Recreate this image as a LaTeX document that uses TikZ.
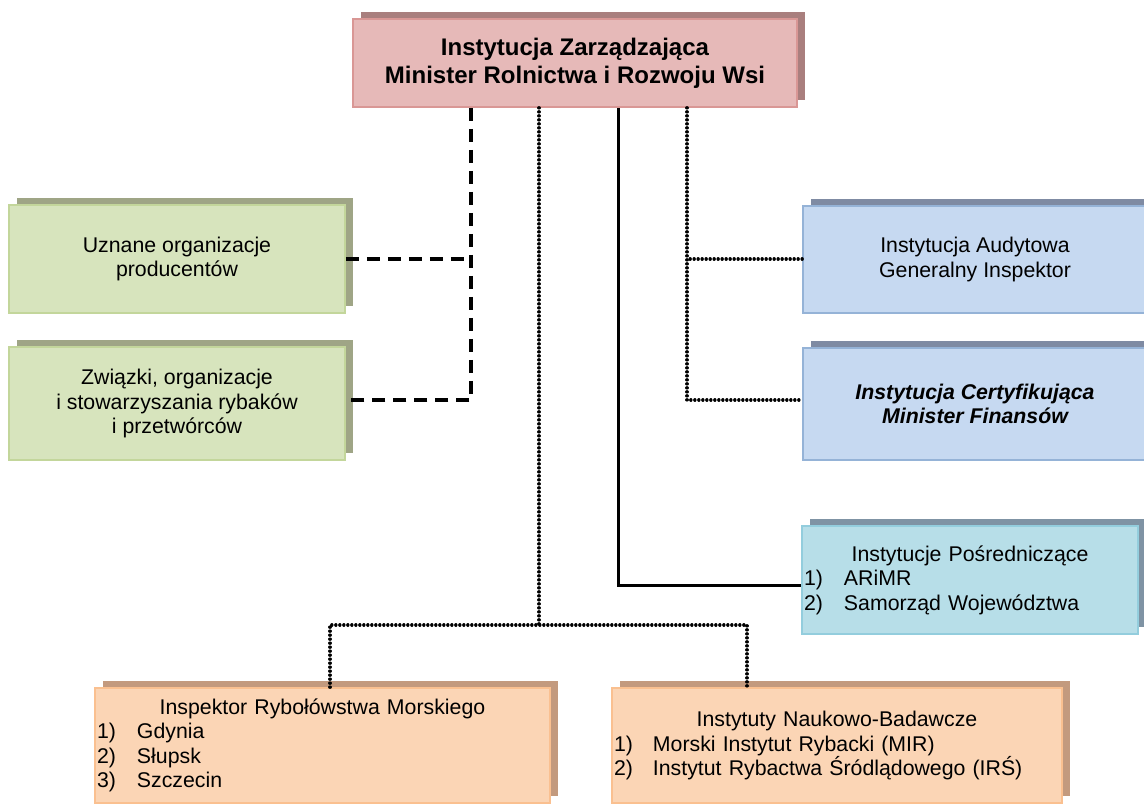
\documentclass[tikz,border=0pt]{standalone}
\usepackage{fontspec}
\setmainfont{Liberation Sans}
\usetikzlibrary{shadows}
\definecolor{pinkfill}{HTML}{E6B9B8}
\definecolor{pinkline}{HTML}{D99795}
\definecolor{pinkshadow}{HTML}{A97F7E}
\definecolor{greenfill}{HTML}{D7E4BD}
\definecolor{greenline}{HTML}{C3D69B}
\definecolor{greenshadow}{HTML}{9FA586}
\definecolor{bluefill}{HTML}{C6D9F1}
\definecolor{blueline}{HTML}{95B3D7}
\definecolor{blueshadow}{HTML}{7F8BA3}
\definecolor{cyanfill}{HTML}{B7DEE8}
\definecolor{cyanline}{HTML}{93CDDD}
\definecolor{cyanshadow}{HTML}{7F93A4}
\definecolor{orangefill}{HTML}{FBD5B5}
\definecolor{orangeline}{HTML}{FAC090}
\definecolor{orangeshadow}{HTML}{C39A7E}
\tikzset{
  basebox/.style={rectangle, line width=1.5pt, inner xsep=2pt, inner ysep=2pt,
    align=center, text=black, font=\fontsize{21.3}{24.5}\selectfont},
  shadowed/.style={general shadow={fill=#1, shadow xshift=8pt, shadow yshift=7pt}},
  pinkbox/.style={basebox, draw=pinkline, fill=pinkfill, shadowed=pinkshadow,
    font=\fontsize{24}{28}\selectfont\bfseries},
  greenbox/.style={basebox, draw=greenline, fill=greenfill, shadowed=greenshadow},
  bluebox/.style={basebox, draw=blueline, fill=bluefill, shadowed=blueshadow},
  cyanbox/.style={basebox, draw=cyanline, fill=cyanfill, shadowed=cyanshadow, align=left},
  orangebox/.style={basebox, draw=orangeline, fill=orangefill, shadowed=orangeshadow, align=left},
  dashline/.style={line width=3.2pt, dash pattern=on 13pt off 8pt},
  dotline/.style={line width=3.2pt, line cap=round, dash pattern=on 0.2pt off 3.8pt},
  solidline/.style={line width=3pt},
}
\newcommand{\itm}[2]{\makebox[#1][l]{#2}}
\newcommand{\ctr}[2]{\makebox[#1][c]{#2}}
\begin{document}
\begin{tikzpicture}[x=1pt,y=-1pt]
\useasboundingbox (0,0) rectangle (1144,807);
\fill[white] (0,0) rectangle (1144,807);

% boxes
\node[pinkbox, minimum width=444pt, minimum height=88pt] (top) at (575,63)
  {Instytucja Zarządzająca\\Minister Rolnictwa i Rozwoju Wsi};
\node[greenbox, minimum width=336pt, minimum height=108pt] (g1) at (177,259)
  {Uznane organizacje\\producentów};
\node[greenbox, minimum width=336pt, minimum height=113pt] (g2) at (177,403.5)
  {Związki, organizacje\\i stowarzyszania rybaków\\i przetwórców};
\node[bluebox, minimum width=344pt, minimum height=107pt] (b1) at (975,259.5)
  {Instytucja Audytowa\\Generalny Inspektor};
\node[bluebox, minimum width=344pt, minimum height=112pt,
  font=\fontsize{21.3}{24.5}\selectfont\bfseries\itshape] (b2) at (975,404)
  {Instytucja Certyfikująca\\Minister Finansów};
\node[cyanbox, minimum width=336pt, minimum height=108pt, text width=332pt] (cy) at (970,580)
  {\ctr{332pt}{Instytucje Pośredniczące}\\
   \itm{40pt}{1)}ARiMR\\
   \itm{40pt}{2)}Samorząd Województwa};
\node[orangebox, minimum width=455pt, minimum height=115pt, text width=451pt] (o1) at (322.5,745.5)
  {\ctr{451pt}{Inspektor Rybołówstwa Morskiego}\\
   \itm{40pt}{1)}Gdynia\\
   \itm{40pt}{2)}Słupsk\\
   \itm{40pt}{3)}Szczecin};
\node[orangebox, minimum width=450pt, minimum height=115pt, text width=446pt] (o2) at (837,745.5)
  {\ctr{446pt}{Instytuty Naukowo-Badawcze}\\
   \itm{39pt}{1)}Morski Instytut Rybacki (MIR)\\
   \itm{39pt}{2)}Instytut Rybactwa Śródlądowego (IRŚ)};

% helper coordinates
\coordinate (dashx) at (471,0);
\coordinate (cx) at (539,0);
\coordinate (sx) at (618,0);
\coordinate (rx) at (687,0);
\coordinate (ay) at (0,259);
\coordinate (ly) at (0,400);
\coordinate (hy) at (0,625);
\coordinate (sy) at (0,585);
\coordinate (l1) at (330,0);
\coordinate (r1) at (747,0);

% dashed connectors to green boxes
\draw[dashline] (top.south -| dashx) -- (dashx |- ly) -- (g2.east |- ly);
\draw[dashline] (g1.east |- ay) -- (dashx |- ay);

% dotted connectors to blue boxes
\draw[dotline] (top.south -| rx) -- (rx |- ly) -- (b2.west |- ly);
\draw[dotline] (b1.west |- ay) -- (rx |- ay);

% solid connector to cyan box
\draw[solidline] (top.south -| sx) -- (sx |- sy) -- (cy.west |- sy);

% dotted connectors to orange boxes
\draw[dotline] (top.south -| cx) -- (cx |- hy);
\draw[dotline] (o1.north -| l1) -- (l1 |- hy) -- (r1 |- hy) -- (o2.north -| r1);
\end{tikzpicture}
\end{document}
